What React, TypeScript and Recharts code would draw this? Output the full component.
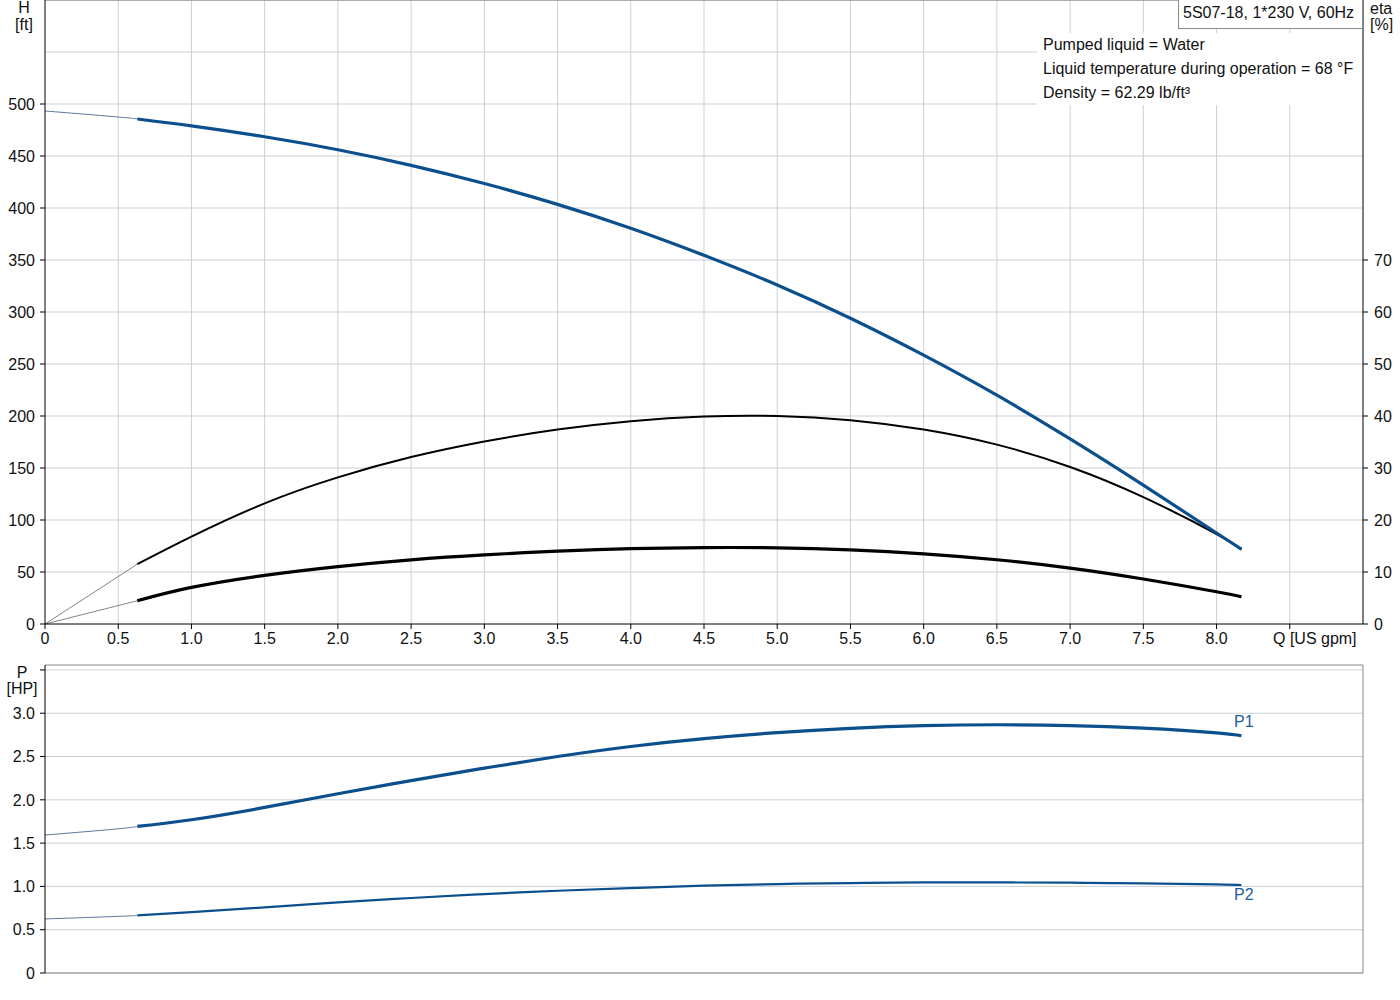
import { LineChart, Line, XAxis, YAxis, CartesianGrid, ReferenceLine } from 'recharts';

const FONT = '"Liberation Sans", Arial, sans-serif';
const BLUE = '#0b4f8c';
const GRID = '#cbd0d5';

// Q [US gpm] where the solid part of each curve is read
const qPoints = [0.63, 1.0, 1.5, 2.0, 2.5, 3.0, 3.5, 4.0, 4.5, 5.0, 5.5, 6.0, 6.5, 7.0, 7.5, 8.0, 8.17];
const headFt = [485.6, 479, 468.5, 456, 441, 423.5, 403.5, 380.5, 354.5, 326, 294, 258.5, 220, 178, 133.5, 87.5, 72];
const etaPump = [11.5, 16.8, 23.2, 28.2, 32.1, 35.1, 37.4, 39.0, 39.9, 40.0, 39.2, 37.4, 34.5, 30.2, 24.4, 17.3, 14.3];
const etaTotal = [4.47, 7.04, 9.36, 11.05, 12.35, 13.3, 14.0, 14.5, 14.7, 14.65, 14.25, 13.5, 12.35, 10.75, 8.65, 6.2, 5.24];
const p1Hp = [1.693, 1.77, 1.912, 2.07, 2.222, 2.366, 2.5, 2.616, 2.707, 2.776, 2.826, 2.857, 2.867, 2.858, 2.827, 2.773, 2.74];
const p2Hp = [0.665, 0.702, 0.758, 0.815, 0.866, 0.912, 0.95, 0.981, 1.008, 1.027, 1.039, 1.046, 1.046, 1.043, 1.035, 1.023, 1.016];

// thin lead-in from Q = 0
const qLead = [0, 0.5, 0.63];
const headLead = [493.3, 487.5, 485.6];
const p1Lead = [1.593, 1.665, 1.693];
const p2Lead = [0.624, 0.654, 0.665];
const qEtaLead = [0, 0.63];
const etaPumpLead = [0, 11.5];
const etaTotalLead = [0, 4.47];

// axes
const qTicks = [0, 0.5, 1, 1.5, 2, 2.5, 3, 3.5, 4, 4.5, 5, 5.5, 6, 6.5, 7, 7.5, 8, 8.5];
const qGrid = [0.5, 1, 1.5, 2, 2.5, 3, 3.5, 4, 4.5, 5, 5.5, 6, 6.5, 7, 7.5, 8, 8.5];
const hTicks = [0, 50, 100, 150, 200, 250, 300, 350, 400, 450, 500];
const hGrid = [50, 100, 150, 200, 250, 300, 350, 400, 450, 500, 550, 600];
const etaTicks = [0, 10, 20, 30, 40, 50, 60, 70];
const pTicks = [0, 0.5, 1, 1.5, 2, 2.5, 3, 3.5];

const infoLines = ['Pumped liquid = Water', 'Liquid temperature during operation = 68 °F', 'Density = 62.29 lb/ft³'];

const pts = (qs: number[], vs: number[]) => qs.map((q, i) => ({ q, v: vs[i] }));

const txt = { fontSize: 16, fill: '#111', fontFamily: FONT };

function QTick({ x, y, payload }: any) {
  const v = payload.value as number;
  if (v === 8.5) {
    return <text x={x + 25} y={y} dy={11.4} textAnchor="middle" {...txt}>Q [US gpm]</text>;
  }
  return <text x={x} y={y} dy={11.4} textAnchor="middle" {...txt}>{v === 0 ? '0' : v.toFixed(1)}</text>;
}

function HTick({ x, y, payload }: any) {
  return <text x={x} y={y} dy={5.7} textAnchor="end" {...txt}>{payload.value}</text>;
}

function EtaTick({ x, y, payload }: any) {
  return <text x={x} y={y} dy={5.7} textAnchor="start" {...txt}>{payload.value}</text>;
}

function PTick({ x, y, payload }: any) {
  const v = payload.value as number;
  if (v === 3.5) {
    return (
      <g>
        <text x={22} y={y} dy={8} textAnchor="middle" {...txt}>P</text>
        <text x={22} y={y} dy={24} textAnchor="middle" {...txt}>[HP]</text>
      </g>
    );
  }
  return <text x={x} y={y} dy={5.7} textAnchor="end" {...txt}>{v === 0 ? '0' : v.toFixed(1)}</text>;
}

export default function App() {
  return (
    <div style={{ position: 'absolute', left: 0, top: 0, width: 1400, height: 1000, background: '#fff', fontFamily: FONT }}>
      <div style={{ position: 'absolute', left: 0, top: 0 }}>
        <LineChart width={1400} height={660} margin={{ top: 0, right: 0, bottom: 0, left: 0 }}>
          <CartesianGrid stroke={GRID} xAxisId="q" yAxisId="h" verticalValues={qGrid} horizontalValues={hGrid} />
          <XAxis xAxisId="q" type="number" dataKey="q" domain={[0, 9]} ticks={qTicks} interval={0} height={36}
            stroke="#000" tickSize={5} tickMargin={4} tick={<QTick />} allowDuplicatedCategory={false} />
          <YAxis yAxisId="h" domain={[0, 600]} ticks={hTicks} interval={0} width={45}
            stroke="#000" tickSize={5} tickMargin={5} tick={<HTick />} />
          <YAxis yAxisId="eta" orientation="right" domain={[0, 120]} ticks={etaTicks} interval={0} width={37}
            stroke="#000" tickSize={5} tickMargin={6} tick={<EtaTick />} />
          <ReferenceLine xAxisId="q" yAxisId="h" y={600} stroke="#777" />

          <Line xAxisId="q" yAxisId="h" data={pts(qLead, headLead)} dataKey="v" type="natural" stroke="#5d7599" strokeWidth={1} dot={false} isAnimationActive={false} />
          <Line xAxisId="q" yAxisId="eta" data={pts(qEtaLead, etaPumpLead)} dataKey="v" type="linear" stroke="#666" strokeWidth={0.8} dot={false} isAnimationActive={false} />
          <Line xAxisId="q" yAxisId="eta" data={pts(qEtaLead, etaTotalLead)} dataKey="v" type="linear" stroke="#666" strokeWidth={0.8} dot={false} isAnimationActive={false} />

          <Line xAxisId="q" yAxisId="eta" data={pts(qPoints, etaTotal)} dataKey="v" type="natural" stroke="#000" strokeWidth={3.2} dot={false} isAnimationActive={false} />
          <Line xAxisId="q" yAxisId="eta" data={pts(qPoints, etaPump)} dataKey="v" type="natural" stroke="#000" strokeWidth={2} dot={false} isAnimationActive={false} />
          <Line xAxisId="q" yAxisId="h" data={pts(qPoints, headFt)} dataKey="v" type="natural" stroke={BLUE} strokeWidth={3.2} dot={false} isAnimationActive={false} />
        </LineChart>
      </div>

      <div style={{ position: 'absolute', left: 0, top: 660 }}>
        <LineChart width={1400} height={340} margin={{ top: 5, right: 37, bottom: 0, left: 0 }}>
          <CartesianGrid stroke={GRID} xAxisId="q" yAxisId="p" verticalValues={qGrid} horizontalValues={pTicks} />
          <XAxis xAxisId="q" type="number" dataKey="q" domain={[0, 9]} ticks={qTicks} height={27}
            stroke="#888" tick={false} tickLine={false} allowDuplicatedCategory={false} />
          <YAxis yAxisId="p" domain={[0, 3.557]} ticks={pTicks} interval={0} width={45} allowDataOverflow
            stroke="#000" tickSize={5} tickMargin={5} tick={<PTick />} />
          <ReferenceLine xAxisId="q" yAxisId="p" y={3.557} stroke="#888" />
          <ReferenceLine xAxisId="q" yAxisId="p" x={9} stroke="#888" />

          <Line xAxisId="q" yAxisId="p" data={pts(qLead, p1Lead)} dataKey="v" type="natural" stroke="#5d7599" strokeWidth={1} dot={false} isAnimationActive={false} />
          <Line xAxisId="q" yAxisId="p" data={pts(qLead, p2Lead)} dataKey="v" type="natural" stroke="#5d7599" strokeWidth={1} dot={false} isAnimationActive={false} />
          <Line xAxisId="q" yAxisId="p" data={pts(qPoints, p1Hp)} dataKey="v" type="natural" stroke={BLUE} strokeWidth={3.2} dot={false} isAnimationActive={false} />
          <Line xAxisId="q" yAxisId="p" data={pts(qPoints, p2Hp)} dataKey="v" type="natural" stroke={BLUE} strokeWidth={2.2} dot={false} isAnimationActive={false} />
        </LineChart>
      </div>

      {/* axis names, curve names and the info box */}
      <svg width={1400} height={1000} style={{ position: 'absolute', left: 0, top: 0, pointerEvents: 'none' }}>
        <text x={24} y={13} textAnchor="middle" {...txt}>H</text>
        <text x={24} y={30} textAnchor="middle" {...txt}>[ft]</text>
        <text x={1370} y={14} {...txt}>eta</text>
        <text x={1370} y={30} {...txt}>[%]</text>

        <rect x={1178.5} y={-1} width={184} height={29.5} fill="#fff" stroke="#8a8a8a" />
        <text x={1183} y={18} {...txt}>5S07-18, 1*230 V, 60Hz</text>
        <rect x={1037} y={33} width={325} height={72} fill="#fff" />
        {infoLines.map((s, i) => (
          <text key={s} x={1043} y={50 + i * 24} {...txt}>{s}</text>
        ))}

        <text x={1234} y={727} {...txt} fill="#1f5c9c">P1</text>
        <text x={1234} y={900} {...txt} fill="#1f5c9c">P2</text>
      </svg>
    </div>
  );
}
